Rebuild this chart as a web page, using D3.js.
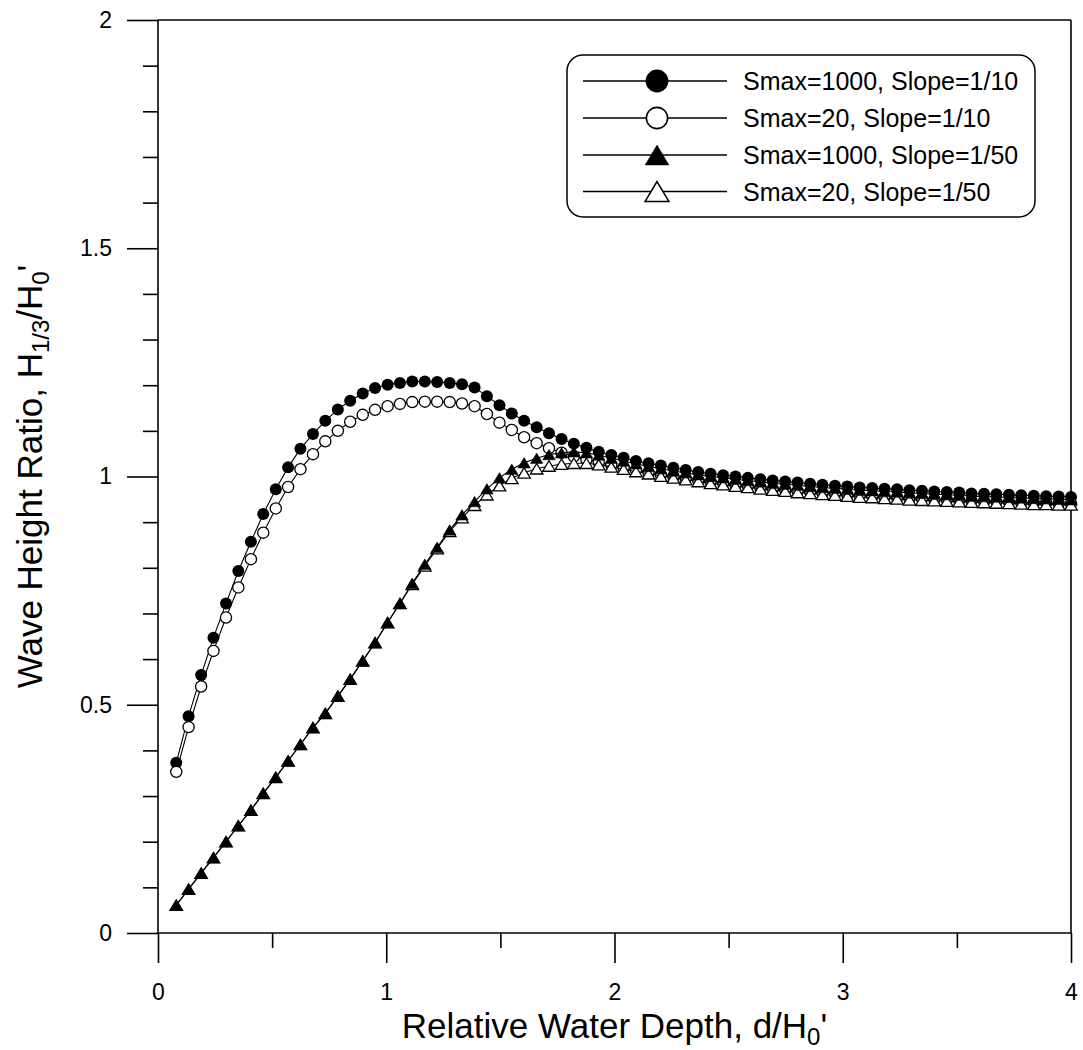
<!DOCTYPE html>
<html><head><meta charset="utf-8">
<script src="https://cdn.jsdelivr.net/npm/d3@7/dist/d3.min.js"></script>
<style>body{margin:0;background:#fff}svg{display:block}</style>
</head><body>
<svg id="chart" width="1083" height="1050"></svg>
<script>
// ---- data ----
const xValues = [0.080,0.134,0.189,0.243,0.298,0.352,0.407,0.461,0.516,0.570,
  0.624,0.679,0.733,0.788,0.842,0.897,0.951,1.006,1.060,1.114,
  1.169,1.223,1.278,1.332,1.387,1.441,1.496,1.550,1.604,1.659,
  1.713,1.768,1.822,1.877,1.931,1.986,2.040,2.094,2.149,2.203,
  2.258,2.312,2.367,2.421,2.476,2.530,2.584,2.639,2.693,2.748,
  2.802,2.857,2.911,2.966,3.020,3.074,3.129,3.183,3.238,3.292,
  3.347,3.401,3.456,3.510,3.564,3.619,3.673,3.728,3.782,3.837,
  3.891,3.946,4.000];

const smax1000Slope10 = [0.373,0.475,0.565,0.647,0.722,0.793,0.857,0.918,0.972,1.020,
  1.061,1.093,1.122,1.147,1.166,1.182,1.194,1.201,1.205,1.208,
  1.208,1.207,1.205,1.202,1.195,1.176,1.156,1.138,1.122,1.108,
  1.095,1.082,1.072,1.063,1.054,1.047,1.041,1.034,1.029,1.024,
  1.019,1.014,1.010,1.006,1.003,1.000,0.997,0.994,0.991,0.989,
  0.987,0.984,0.982,0.980,0.978,0.976,0.975,0.973,0.972,0.970,
  0.969,0.967,0.966,0.965,0.963,0.962,0.961,0.960,0.959,0.958,
  0.957,0.956,0.955];

const smax20Slope10 = [0.353,0.451,0.540,0.618,0.691,0.757,0.819,0.877,0.930,0.977,
  1.016,1.049,1.077,1.100,1.120,1.135,1.146,1.154,1.159,1.163,
  1.164,1.164,1.163,1.160,1.154,1.137,1.118,1.102,1.086,1.073,
  1.062,1.052,1.044,1.037,1.031,1.025,1.019,1.014,1.009,1.004,
  1.000,0.996,0.992,0.988,0.985,0.982,0.979,0.976,0.973,0.971,
  0.968,0.966,0.964,0.962,0.960,0.958,0.957,0.955,0.954,0.952,
  0.951,0.950,0.949,0.948,0.947,0.946,0.945,0.944,0.943,0.942,
  0.942,0.941,0.941];

const smax1000Slope50 = [0.061,0.096,0.131,0.165,0.200,0.235,0.269,0.306,0.341,0.377,
  0.413,0.450,0.481,0.519,0.556,0.596,0.636,0.680,0.722,0.766,
  0.808,0.845,0.883,0.916,0.945,0.973,0.997,1.016,1.030,1.040,
  1.048,1.052,1.054,1.052,1.047,1.040,1.034,1.028,1.022,1.017,
  1.012,1.008,1.004,1.000,0.997,0.994,0.991,0.988,0.985,0.983,
  0.981,0.978,0.976,0.974,0.972,0.970,0.969,0.967,0.966,0.964,
  0.963,0.961,0.960,0.959,0.957,0.956,0.955,0.954,0.953,0.952,
  0.951,0.950,0.949];

const smax20Slope50 = [0.061,0.096,0.131,0.165,0.200,0.235,0.269,0.306,0.341,0.377,
  0.413,0.450,0.481,0.519,0.556,0.596,0.636,0.680,0.722,0.764,
  0.804,0.842,0.880,0.910,0.937,0.960,0.980,0.996,1.008,1.017,
  1.023,1.027,1.029,1.029,1.026,1.021,1.016,1.011,1.006,1.001,
  0.997,0.993,0.989,0.985,0.982,0.979,0.976,0.973,0.970,0.968,
  0.965,0.963,0.961,0.959,0.957,0.955,0.954,0.952,0.951,0.949,
  0.948,0.947,0.946,0.945,0.944,0.943,0.942,0.941,0.940,0.939,
  0.939,0.938,0.938];

const seriesLabels = ["Smax=1000, Slope=1/10","Smax=20, Slope=1/10","Smax=1000, Slope=1/50","Smax=20, Slope=1/50"];
const seriesMarkers = ["circleFilled","circleOpen","triangleFilled","triangleOpen"];
const xMajorTicks = [0,1,2,3,4];
const xMinorTicks = [0.5,1.5,2.5,3.5];
const yMajorTicks = [0,0.5,1,1.5,2];
const yTickLabels = ["0","0.5","1","1.5","2"];
const yMinorTicks = [0.1,0.2,0.3,0.4,0.6,0.7,0.8,0.9,1.1,1.2,1.3,1.4,1.6,1.7,1.8,1.9];

// ---- layout ----
const svg = d3.select("#chart");
const FONT = "Liberation Sans, Arial, sans-serif";
const L = 158, R = 1071, T = 20, B = 933;
const x = d3.scaleLinear().domain([0,4]).range([L,R]);
const y = d3.scaleLinear().domain([0,2]).range([B,T]);

const series = [smax1000Slope10, smax20Slope10, smax1000Slope50, smax20Slope50];

// frame (top & right)
svg.append("line").attr("x1",L).attr("x2",R).attr("y1",T).attr("y2",T)
  .attr("stroke","#000").attr("stroke-width",1.6);
svg.append("line").attr("x1",R).attr("x2",R).attr("y1",T).attr("y2",B)
  .attr("stroke","#000").attr("stroke-width",1.6);

// axes
const xAxis = d3.axisBottom(x).tickValues(xMajorTicks).tickSize(30).tickPadding(22)
  .tickFormat(d3.format("d"));
const gx = svg.append("g").attr("transform",`translate(0,${B})`).call(xAxis);
const xAxisMinor = d3.axisBottom(x).tickValues(xMinorTicks).tickSize(15).tickFormat("");
const gxm = svg.append("g").attr("transform",`translate(0,${B})`).call(xAxisMinor);

const yAxis = d3.axisLeft(y).tickValues(yMajorTicks).tickSize(31).tickPadding(15)
  .tickFormat((d,i)=>yTickLabels[i]);
const gy = svg.append("g").attr("transform",`translate(${L},0)`).call(yAxis);
const yAxisMinor = d3.axisLeft(y).tickValues(yMinorTicks).tickSize(15).tickFormat("");
const gym = svg.append("g").attr("transform",`translate(${L},0)`).call(yAxisMinor);

[gx,gxm,gy,gym].forEach(g=>{
  g.select(".domain").remove();
  g.selectAll("line").attr("stroke","#000").attr("stroke-width",1.6);
  g.selectAll("text").attr("font-family",FONT).attr("font-size",23).attr("fill","#000");
});
gx.selectAll("text").attr("dy",null).attr("dominant-baseline",null).attr("y",67);
// axis lines
svg.append("line").attr("x1",L).attr("x2",R).attr("y1",B).attr("y2",B)
  .attr("stroke","#000").attr("stroke-width",1.6);
svg.append("line").attr("x1",L).attr("x2",L).attr("y1",T).attr("y2",B)
  .attr("stroke","#000").attr("stroke-width",1.6);

// ---- marker drawing ----
function drawMarker(g, type, cx, cy, big){
  const s = big ? 1.9 : 1;
  if (type.startsWith("circle")){
    const filled = type === "circleFilled";
    g.append("circle").attr("cx",cx).attr("cy",cy)
      .attr("r", filled ? 6*s : 5.6*s)
      .attr("fill", filled ? "#000" : "#fff")
      .attr("stroke","#000").attr("stroke-width", filled ? 0 : 1.3*(big?1.2:1));
  } else {
    const filled = type === "triangleFilled";
    const w = 12.5*s/2, h = 10.5*s/2;
    g.append("path")
      .attr("d",`M${cx},${cy-h}L${cx+w},${cy+h}L${cx-w},${cy+h}Z`)
      .attr("fill", filled ? "#000" : "#fff")
      .attr("stroke","#000").attr("stroke-width", filled ? 0.5 : 1.3*(big?1.2:1))
      .attr("stroke-linejoin","miter");
  }
}

// draw order: circles first, then open triangles, filled triangles on top
const line = d3.line().x(d=>x(d[0])).y(d=>y(d[1]));
[0,1,3,2].forEach(si=>{
  const vals = series[si];
  const pts = xValues.map((xv,i)=>[xv, vals[i]]);
  const g = svg.append("g");
  g.append("path").attr("d",line(pts)).attr("fill","none")
    .attr("stroke","#000").attr("stroke-width",1.1);
  pts.forEach(p=>drawMarker(g, seriesMarkers[si], x(p[0]), y(p[1]), false));
});

// ---- legend ----
const lg = svg.append("g");
lg.append("rect").attr("x",567).attr("y",55).attr("width",468).attr("height",162)
  .attr("rx",16).attr("ry",16).attr("fill","#fff").attr("stroke","#000").attr("stroke-width",1.5);
const rowY = [81,118,155,191.5];
seriesLabels.forEach((lab,i)=>{
  lg.append("line").attr("x1",583).attr("x2",727).attr("y1",rowY[i]).attr("y2",rowY[i])
    .attr("stroke","#000").attr("stroke-width",1.3);
  drawMarker(lg, seriesMarkers[i], 657, rowY[i], true);
  lg.append("text").attr("x",743).attr("y",rowY[i]+9).attr("font-family",FONT)
    .attr("font-size",25).attr("fill","#000").text(lab);
});

// ---- axis titles ----
const xt = svg.append("text").attr("x",(L+R)/2).attr("y",1038).attr("text-anchor","middle")
  .attr("font-family",FONT).attr("font-size",35).attr("fill","#000");
xt.append("tspan").text("Relative Water Depth, d/H");
xt.append("tspan").attr("font-size",24).attr("dy",7).text("0");
xt.append("tspan").attr("dy",-7).text("'");

const yt = svg.append("text").attr("transform",`translate(42,${(T+B)/2}) rotate(-90)`)
  .attr("text-anchor","middle").attr("font-family",FONT).attr("font-size",35).attr("fill","#000");
yt.append("tspan").text("Wave Height Ratio, H");
yt.append("tspan").attr("font-size",24).attr("dy",7).text("1/3");
yt.append("tspan").attr("dy",-7).text("/H");
yt.append("tspan").attr("font-size",24).attr("dy",7).text("0");
yt.append("tspan").attr("dy",-7).text("'");
</script>
</body></html>
